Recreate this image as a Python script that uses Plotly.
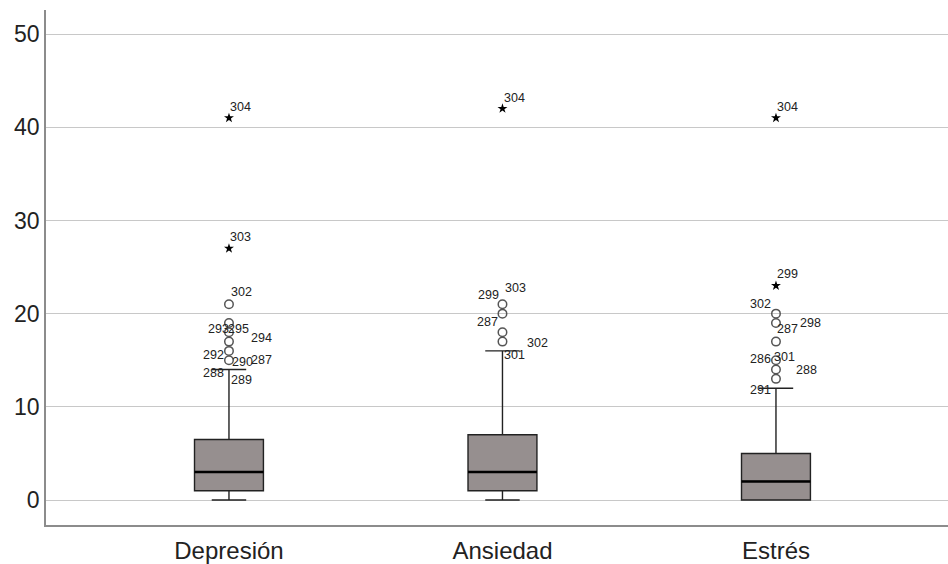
import plotly.graph_objects as go

categories = ["Depresión", "Ansiedad", "Estrés"]
q1 = [1, 1, 0]
medians = [3, 3, 2]
q3 = [6.5, 7, 5]
lower_whisker = [0, 0, 0]
upper_whisker = [14, 16, 12]

outliers = [
    [21, 19, 18, 17, 16, 15],
    [21, 20, 18, 17],
    [20, 19, 17, 15, 14, 13],
]
extremes = [
    [41, 27],
    [42],
    [41, 23],
]

# (category index, value, case id)
case_labels = [
    (0, 41, "304"), (0, 27, "303"), (0, 21, "302"), (0, 19, "293"), (0, 19, "295"),
    (0, 18, "294"), (0, 16, "292"), (0, 15, "290"), (0, 15, "287"), (0, 15, "288"),
    (0, 15, "289"),
    (1, 42, "304"), (1, 21, "299"), (1, 21, "303"), (1, 20, "287"), (1, 17, "302"),
    (1, 17, "301"),
    (2, 41, "304"), (2, 23, "299"), (2, 20, "302"), (2, 19, "287"), (2, 19, "298"),
    (2, 15, "286"), (2, 15, "301"), (2, 14, "288"), (2, 13, "291"),
]
# pixel offsets of each label (style only)
label_offsets = [
    (12, 11), (12, 11), (13, 12), (-10, -6), (10, -6),
    (33, -6), (-15, -4), (14, -2), (33, 0), (-15, -13),
    (13, -20),
    (12, 11), (-14, 9), (13, 16), (-15, -8), (35, -1),
    (12, -13),
    (12, 11), (12, 12), (-15, 10), (12, -6), (35, 0),
    (-15, 1), (9, 3), (31, 0), (-15, -11),
]

xpos = list(range(len(categories)))
box_w = 0.252

fig = go.Figure()
fig.add_trace(go.Box(
    x=xpos, q1=q1, median=medians, q3=q3,
    lowerfence=lower_whisker, upperfence=upper_whisker,
    width=box_w, whiskerwidth=0.5,
    fillcolor="#968f8f", line=dict(color="#222222", width=1.4),
    boxpoints=False, hoverinfo="skip", showlegend=False,
))

# thick median lines
for i, m in enumerate(medians):
    fig.add_shape(type="line", x0=xpos[i] - box_w / 2, x1=xpos[i] + box_w / 2,
                  y0=m, y1=m, xref="x", yref="y",
                  line=dict(color="black", width=2.5))

ox, oy, ex, ey = [], [], [], []
for i in xpos:
    ox += [i] * len(outliers[i]); oy += outliers[i]
    ex += [i] * len(extremes[i]); ey += extremes[i]

fig.add_trace(go.Scatter(
    x=ox, y=oy, mode="markers", showlegend=False, hoverinfo="skip",
    marker=dict(symbol="circle-open", size=8.5, color="#555555", line=dict(width=1.5, color="#555555")),
))
fig.add_trace(go.Scatter(
    x=ex, y=ey, mode="markers", showlegend=False, hoverinfo="skip",
    marker=dict(symbol="star", size=7.5, color="black", line=dict(width=0)),
))

for (ci, val, txt), (dx, dy) in zip(case_labels, label_offsets):
    fig.add_annotation(x=xpos[ci], y=val, text=txt, showarrow=False,
                       xshift=dx, yshift=dy, xref="x", yref="y",
                       font=dict(family="Liberation Sans, Arial, sans-serif", size=12.5, color="#222"))

fig.update_layout(
    width=948, height=564,
    margin=dict(l=46, r=0, t=10, b=39),
    paper_bgcolor="white", plot_bgcolor="white",
    font=dict(family="Liberation Sans, Arial, sans-serif", color="#222"),
)
fig.update_xaxes(
    range=[-0.669, 2.629], tickvals=xpos, ticktext=categories,
    showgrid=False, zeroline=False, showline=True, linecolor="#8c8c8c", linewidth=1.5,
    ticks="", tickfont=dict(size=24, color="#222"), ticklabelstandoff=3,
)
fig.update_yaxes(
    range=[-2.68, 52.58], tickvals=[0, 10, 20, 30, 40, 50],
    showgrid=True, gridcolor="#c8c8c8", gridwidth=1.2, zeroline=False,
    showline=True, linecolor="#8c8c8c", linewidth=1.5,
    ticks="", tickfont=dict(size=23, color="#222"),
)

fig.write_html("out.html", config={"displayModeBar": False},
               post_script="document.body.style.margin='0';document.body.style.overflow='hidden';")
